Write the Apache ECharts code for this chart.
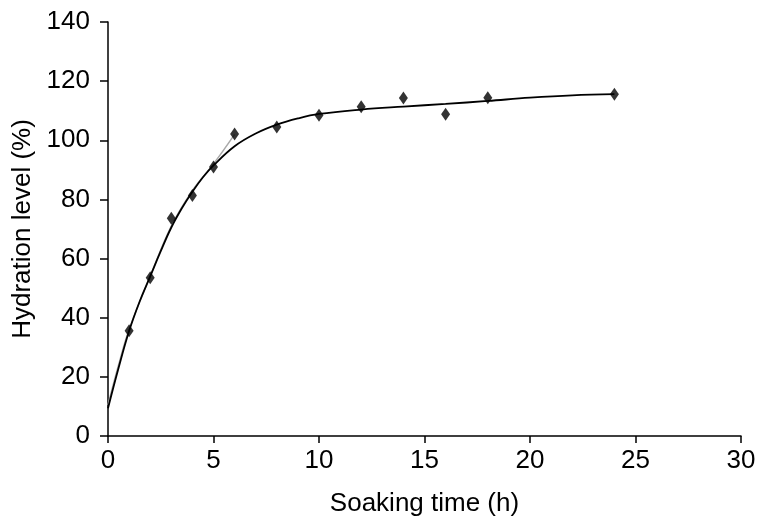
<!DOCTYPE html>
<html>
<head>
    <meta charset="UTF-8">
    <title>Hydration level</title>
    <script src="https://cdn.jsdelivr.net/npm/echarts@6/dist/echarts.min.js"></script>
    <style>
        html, body { margin: 0; padding: 0; background: #fff; }
        #chart { width: 772px; height: 532px; }
    </style>
</head>
<body>
<div id="chart"></div>
<script>
    // measured points (soaking time h, hydration %)
    var timeObs = [1, 2, 3, 4, 5, 6, 8, 10, 12, 14, 16, 18, 24];
    var hydrObs = [35.6, 53.5, 73.6, 81.3, 91, 102.1, 104.5, 108.5, 111.3, 114.3, 108.8, 114.4, 115.6];

    // fitted curve
    var timeFit = [0, 0.5, 1, 1.5, 2, 2.5, 3, 3.5, 4, 4.5, 5, 6, 7, 8, 9, 10, 12, 14, 16, 18, 20, 22, 24];
    var hydrFit = [9.4, 23, 35.5, 45.5, 54, 62.5, 70.5, 77, 82.6, 87.5, 91.5, 98, 102.3, 105.3, 107.4, 108.9, 110.4, 111.4, 112.3, 113.3, 114.4, 115.2, 115.6];

    // second (grey) fit, only visible at the start
    var timeFit2 = [0, 0.5, 1, 2, 3, 4, 5, 6];
    var hydrFit2 = [10.5, 24, 36, 54, 71, 83, 92, 102];

    function pairs(xs, ys) {
        return xs.map(function (x, i) { return [x, ys[i]]; });
    }

    var chart = echarts.init(document.getElementById('chart'));
    var font = 'Liberation Sans, Arial, sans-serif';

    chart.setOption({
        animation: false,
        grid: { left: 108, right: 31, top: 22, bottom: 96 },
        xAxis: {
            type: 'value', min: 0, max: 30, interval: 5,
            name: 'Soaking time (h)', nameLocation: 'middle', nameGap: 55,
            nameTextStyle: { fontFamily: font, fontSize: 26, color: '#000' },
            axisLine: { lineStyle: { color: '#000', width: 1.5 } },
            axisTick: { inside: false, length: 7, lineStyle: { color: '#000', width: 1.5 } },
            axisLabel: { fontFamily: font, fontSize: 26, color: '#000', margin: 12 },
            splitLine: { show: false }
        },
        yAxis: {
            type: 'value', min: 0, max: 140, interval: 20,
            name: 'Hydration level (%)', nameLocation: 'middle', nameGap: 66, nameRotate: 90,
            nameTextStyle: { fontFamily: font, fontSize: 26, color: '#000' },
            axisLine: { show: true, lineStyle: { color: '#000', width: 1.5 } },
            axisTick: { show: true, inside: false, length: 8, lineStyle: { color: '#000', width: 1.5 } },
            axisLabel: { fontFamily: font, fontSize: 26, color: '#000', margin: 18 },
            splitLine: { show: false }
        },
        series: [
            {
                type: 'line', data: pairs(timeFit2, hydrFit2), smooth: 0.4,
                symbol: 'none', lineStyle: { color: '#aaa', width: 1.5 }, z: 1
            },
            {
                type: 'line', data: pairs(timeFit, hydrFit), smooth: 0.4,
                symbol: 'none', lineStyle: { color: '#000', width: 1.8 }, z: 2
            },
            {
                type: 'scatter', data: pairs(timeObs, hydrObs),
                symbol: 'diamond', symbolSize: [9, 13],
                itemStyle: { color: '#000' }, z: 3
            }
        ]
    });
</script>
</body>
</html>
